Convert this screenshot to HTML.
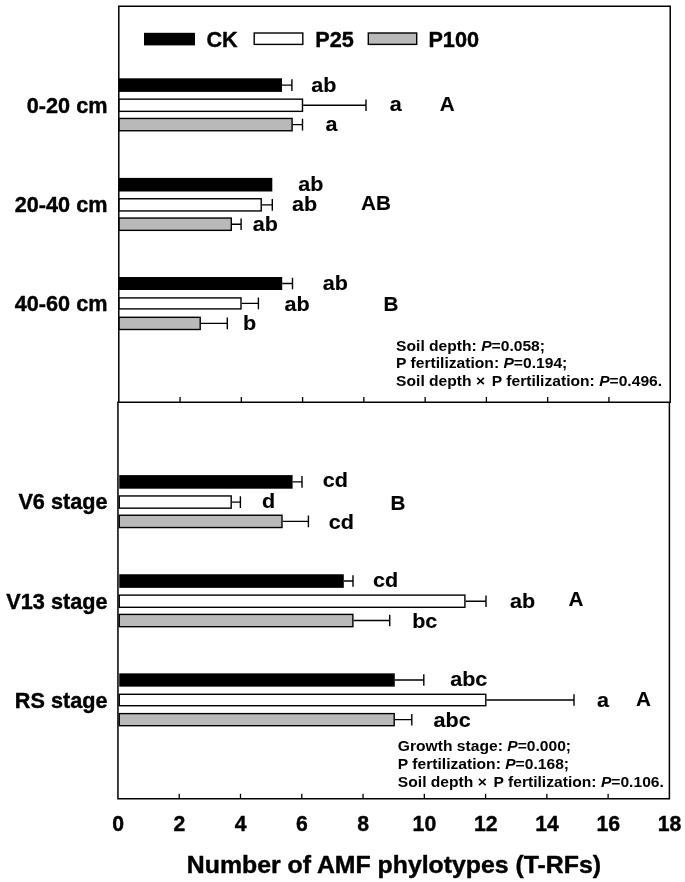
<!DOCTYPE html>
<html><head><meta charset="utf-8"><title>AMF phylotypes</title>
<style>
html,body{margin:0;padding:0;background:#fff;}
body{width:685px;height:882px;overflow:hidden;}
svg{display:block;}
text{font-family:"Liberation Sans",Arial,Helvetica,sans-serif;font-weight:bold;fill:#000;stroke:#000;stroke-width:0.4px;stroke-linejoin:round;}
.s{stroke:none;}
.l{stroke-width:0.15px;}
</style></head><body>
<svg width="685" height="882" viewBox="0 0 685 882">
<rect x="0" y="0" width="685" height="882" fill="#fff"/>
<path d="M282.0 85.1H291.9M291.9 79.3V90.9" stroke="#000" stroke-width="1.4" fill="none"/>
<rect x="118.80" y="78.30" width="163.20" height="13.60" fill="#000"/>
<path d="M303.2 105.2H366.0M366.0 99.5V111.0" stroke="#000" stroke-width="1.4" fill="none"/>
<rect x="118.80" y="99.15" width="183.70" height="12.20" fill="#fff" stroke="#000" stroke-width="1.4"/>
<path d="M292.8 124.6H302.5M302.5 118.8V130.4" stroke="#000" stroke-width="1.4" fill="none"/>
<rect x="118.80" y="118.45" width="173.30" height="12.30" fill="#b9b9b9" stroke="#000" stroke-width="1.4"/>
<text transform="translate(107.50,113.00) scale(0.985,0.99)" font-size="22" text-anchor="end">0-20 cm</text>
<rect x="118.80" y="177.90" width="153.50" height="13.60" fill="#000"/>
<path d="M261.9 204.9H272.3M272.3 199.1V210.7" stroke="#000" stroke-width="1.4" fill="none"/>
<rect x="118.80" y="198.75" width="142.40" height="12.20" fill="#fff" stroke="#000" stroke-width="1.4"/>
<path d="M232.0 224.2H241.1M241.1 218.4V230.0" stroke="#000" stroke-width="1.4" fill="none"/>
<rect x="118.80" y="218.05" width="112.50" height="12.30" fill="#b9b9b9" stroke="#000" stroke-width="1.4"/>
<text transform="translate(107.50,212.30) scale(0.985,0.99)" font-size="22" text-anchor="end">20-40 cm</text>
<path d="M282.2 283.5H292.5M292.5 277.7V289.3" stroke="#000" stroke-width="1.4" fill="none"/>
<rect x="118.80" y="277.00" width="163.40" height="13.00" fill="#000"/>
<path d="M241.7 303.4H258.4M258.4 297.6V309.2" stroke="#000" stroke-width="1.4" fill="none"/>
<rect x="118.80" y="297.90" width="122.20" height="11.00" fill="#fff" stroke="#000" stroke-width="1.4"/>
<path d="M200.9 323.4H227.3M227.3 317.6V329.2" stroke="#000" stroke-width="1.4" fill="none"/>
<rect x="118.80" y="317.30" width="81.40" height="12.20" fill="#b9b9b9" stroke="#000" stroke-width="1.4"/>
<text transform="translate(107.50,311.40) scale(0.985,0.99)" font-size="22" text-anchor="end">40-60 cm</text>
<path d="M292.6 481.9H302.0M302.0 476.1V487.7" stroke="#000" stroke-width="1.4" fill="none"/>
<rect x="119.25" y="475.10" width="173.35" height="13.60" fill="#000"/>
<path d="M231.9 502.1H240.4M240.4 496.2V507.9" stroke="#000" stroke-width="1.4" fill="none"/>
<rect x="119.25" y="495.95" width="111.95" height="12.20" fill="#fff" stroke="#000" stroke-width="1.4"/>
<path d="M282.7 521.4H308.4M308.4 515.6V527.2" stroke="#000" stroke-width="1.4" fill="none"/>
<rect x="119.25" y="515.25" width="162.75" height="12.30" fill="#b9b9b9" stroke="#000" stroke-width="1.4"/>
<text transform="translate(107.50,508.90) scale(0.985,0.99)" font-size="22" text-anchor="end">V6 stage</text>
<path d="M343.8 581.0H353.0M353.0 575.2V586.8" stroke="#000" stroke-width="1.4" fill="none"/>
<rect x="119.25" y="574.25" width="224.55" height="13.60" fill="#000"/>
<path d="M465.6 601.2H486.0M486.0 595.4V607.0" stroke="#000" stroke-width="1.4" fill="none"/>
<rect x="119.25" y="595.10" width="345.65" height="12.20" fill="#fff" stroke="#000" stroke-width="1.4"/>
<path d="M353.6 620.5H389.7M389.7 614.8V626.3" stroke="#000" stroke-width="1.4" fill="none"/>
<rect x="119.25" y="614.40" width="233.65" height="12.30" fill="#b9b9b9" stroke="#000" stroke-width="1.4"/>
<text transform="translate(107.50,608.70) scale(0.985,0.99)" font-size="22" text-anchor="end">V13 stage</text>
<path d="M394.8 680.0H423.8M423.8 674.2V685.8" stroke="#000" stroke-width="1.4" fill="none"/>
<rect x="119.25" y="673.35" width="275.55" height="13.30" fill="#000"/>
<path d="M486.5 700.0H574.0M574.0 694.2V705.8" stroke="#000" stroke-width="1.4" fill="none"/>
<rect x="119.25" y="694.30" width="366.55" height="11.40" fill="#fff" stroke="#000" stroke-width="1.4"/>
<path d="M394.9 719.6H411.8M411.8 713.9V725.4" stroke="#000" stroke-width="1.4" fill="none"/>
<rect x="119.25" y="713.60" width="274.95" height="12.10" fill="#b9b9b9" stroke="#000" stroke-width="1.4"/>
<text transform="translate(107.50,708.10) scale(0.985,0.99)" font-size="22" text-anchor="end">RS stage</text>
<path d="M118.8 402.3V6.2H670.2V402.3" stroke="#000" stroke-width="1.5" fill="none" stroke-linejoin="miter"/>
<path d="M117.95 402.3V798.7H669.4V402.3" stroke="#000" stroke-width="1.5" fill="none" stroke-linejoin="miter"/>
<path d="M117.2 402.3H670.95" stroke="#000" stroke-width="1.5" fill="none"/>
<path d="M180.07 402.3v-5.4M179.22 798.7v-5.0M241.33 402.3v-5.4M240.49 798.7v-5.0M302.60 402.3v-5.4M301.77 798.7v-5.0M363.87 402.3v-5.4M363.04 798.7v-5.0M425.13 402.3v-5.4M424.31 798.7v-5.0M486.40 402.3v-5.4M485.58 798.7v-5.0M547.67 402.3v-5.4M546.86 798.7v-5.0M608.93 402.3v-5.4M608.13 798.7v-5.0" stroke="#000" stroke-width="1.3" fill="none"/>
<text transform="translate(118.05,830.70) scale(0.965,0.99)" font-size="22" text-anchor="middle">0</text>
<text transform="translate(179.32,830.70) scale(0.965,0.99)" font-size="22" text-anchor="middle">2</text>
<text transform="translate(240.59,830.70) scale(0.965,0.99)" font-size="22" text-anchor="middle">4</text>
<text transform="translate(301.87,830.70) scale(0.965,0.99)" font-size="22" text-anchor="middle">6</text>
<text transform="translate(363.14,830.70) scale(0.965,0.99)" font-size="22" text-anchor="middle">8</text>
<text transform="translate(424.41,830.70) scale(0.965,0.99)" font-size="22" text-anchor="middle">10</text>
<text transform="translate(485.68,830.70) scale(0.965,0.99)" font-size="22" text-anchor="middle">12</text>
<text transform="translate(546.96,830.70) scale(0.965,0.99)" font-size="22" text-anchor="middle">14</text>
<text transform="translate(608.23,830.70) scale(0.965,0.99)" font-size="22" text-anchor="middle">16</text>
<text transform="translate(669.50,830.70) scale(0.965,0.99)" font-size="22" text-anchor="middle">18</text>
<text transform="translate(393.90,872.60) scale(1.08,1.0)" font-size="23" text-anchor="middle">Number of AMF phylotypes (T-RFs)</text>
<rect x="144" y="32.8" width="51" height="12.6" fill="#000"/>
<rect x="254.2" y="33.0" width="48.6" height="11.4" fill="#fff" stroke="#000" stroke-width="1.4"/>
<rect x="368.3" y="33.0" width="48.4" height="11.4" fill="#b9b9b9" stroke="#000" stroke-width="1.4"/>
<text transform="translate(206.40,46.60) scale(0.985,0.965)" font-size="22" text-anchor="start">CK</text>
<text transform="translate(315.20,46.60) scale(0.985,0.965)" font-size="22" text-anchor="start">P25</text>
<text transform="translate(428.40,46.60) scale(0.985,0.965)" font-size="22" text-anchor="start">P100</text>
<text transform="translate(311.30,91.70) scale(0.98,0.935)" font-size="22" text-anchor="start" class="l">ab</text>
<text transform="translate(389.80,110.90) scale(0.98,0.935)" font-size="22" text-anchor="start" class="l">a</text>
<text transform="translate(325.60,131.30) scale(0.98,0.935)" font-size="22" text-anchor="start" class="l">a</text>
<text transform="translate(439.80,110.60) scale(0.94,0.935)" font-size="22" text-anchor="start" class="l">A</text>
<text transform="translate(298.20,190.50) scale(0.98,0.935)" font-size="22" text-anchor="start" class="l">ab</text>
<text transform="translate(292.00,211.00) scale(0.98,0.935)" font-size="22" text-anchor="start" class="l">ab</text>
<text transform="translate(252.80,231.00) scale(0.98,0.935)" font-size="22" text-anchor="start" class="l">ab</text>
<text transform="translate(361.00,209.50) scale(0.94,0.935)" font-size="22" text-anchor="start" class="l">AB</text>
<text transform="translate(322.80,289.50) scale(0.98,0.935)" font-size="22" text-anchor="start" class="l">ab</text>
<text transform="translate(284.60,310.60) scale(0.98,0.935)" font-size="22" text-anchor="start" class="l">ab</text>
<text transform="translate(243.00,330.30) scale(0.98,0.935)" font-size="22" text-anchor="start" class="l">b</text>
<text transform="translate(383.50,311.20) scale(0.94,0.935)" font-size="22" text-anchor="start" class="l">B</text>
<text transform="translate(322.70,487.00) scale(0.98,0.935)" font-size="22" text-anchor="start" class="l">cd</text>
<text transform="translate(262.00,508.30) scale(0.98,0.935)" font-size="22" text-anchor="start" class="l">d</text>
<text transform="translate(328.70,529.00) scale(0.98,0.935)" font-size="22" text-anchor="start" class="l">cd</text>
<text transform="translate(390.60,509.60) scale(0.94,0.935)" font-size="22" text-anchor="start" class="l">B</text>
<text transform="translate(373.00,587.00) scale(0.98,0.935)" font-size="22" text-anchor="start" class="l">cd</text>
<text transform="translate(510.00,607.80) scale(0.98,0.935)" font-size="22" text-anchor="start" class="l">ab</text>
<text transform="translate(412.20,627.80) scale(0.98,0.935)" font-size="22" text-anchor="start" class="l">bc</text>
<text transform="translate(568.40,606.00) scale(0.94,0.935)" font-size="22" text-anchor="start" class="l">A</text>
<text transform="translate(450.20,686.30) scale(0.98,0.935)" font-size="22" text-anchor="start" class="l">abc</text>
<text transform="translate(597.00,707.00) scale(0.98,0.935)" font-size="22" text-anchor="start" class="l">a</text>
<text transform="translate(433.50,727.00) scale(0.98,0.935)" font-size="22" text-anchor="start" class="l">abc</text>
<text transform="translate(636.00,706.00) scale(0.94,0.935)" font-size="22" text-anchor="start" class="l">A</text>
<text class="s" transform="translate(396.1,350.6) scale(1.086,1.0)" font-size="14.4" xml:space="preserve">Soil depth: <tspan font-style="italic">P</tspan>=0.058;</text>
<text class="s" transform="translate(396.1,368.2) scale(1.086,1.0)" font-size="14.4" xml:space="preserve">P fertilization: <tspan font-style="italic">P</tspan>=0.194;</text>
<text class="s" transform="translate(396.1,386.4) scale(1.086,1.0)" font-size="14.4" xml:space="preserve">Soil depth × <tspan dx="2.2">P fertilization: </tspan><tspan font-style="italic">P</tspan>=0.496.</text>
<text class="s" transform="translate(397.85,751.1) scale(1.086,1.0)" font-size="14.4" xml:space="preserve">Growth stage: <tspan font-style="italic">P</tspan>=0.000;</text>
<text class="s" transform="translate(397.85,769.3) scale(1.086,1.0)" font-size="14.4" xml:space="preserve">P fertilization: <tspan font-style="italic">P</tspan>=0.168;</text>
<text class="s" transform="translate(397.85,787.3) scale(1.086,1.0)" font-size="14.4" xml:space="preserve">Soil depth × <tspan dx="2.2">P fertilization: </tspan><tspan font-style="italic">P</tspan>=0.106.</text>
</svg>
</body></html>
